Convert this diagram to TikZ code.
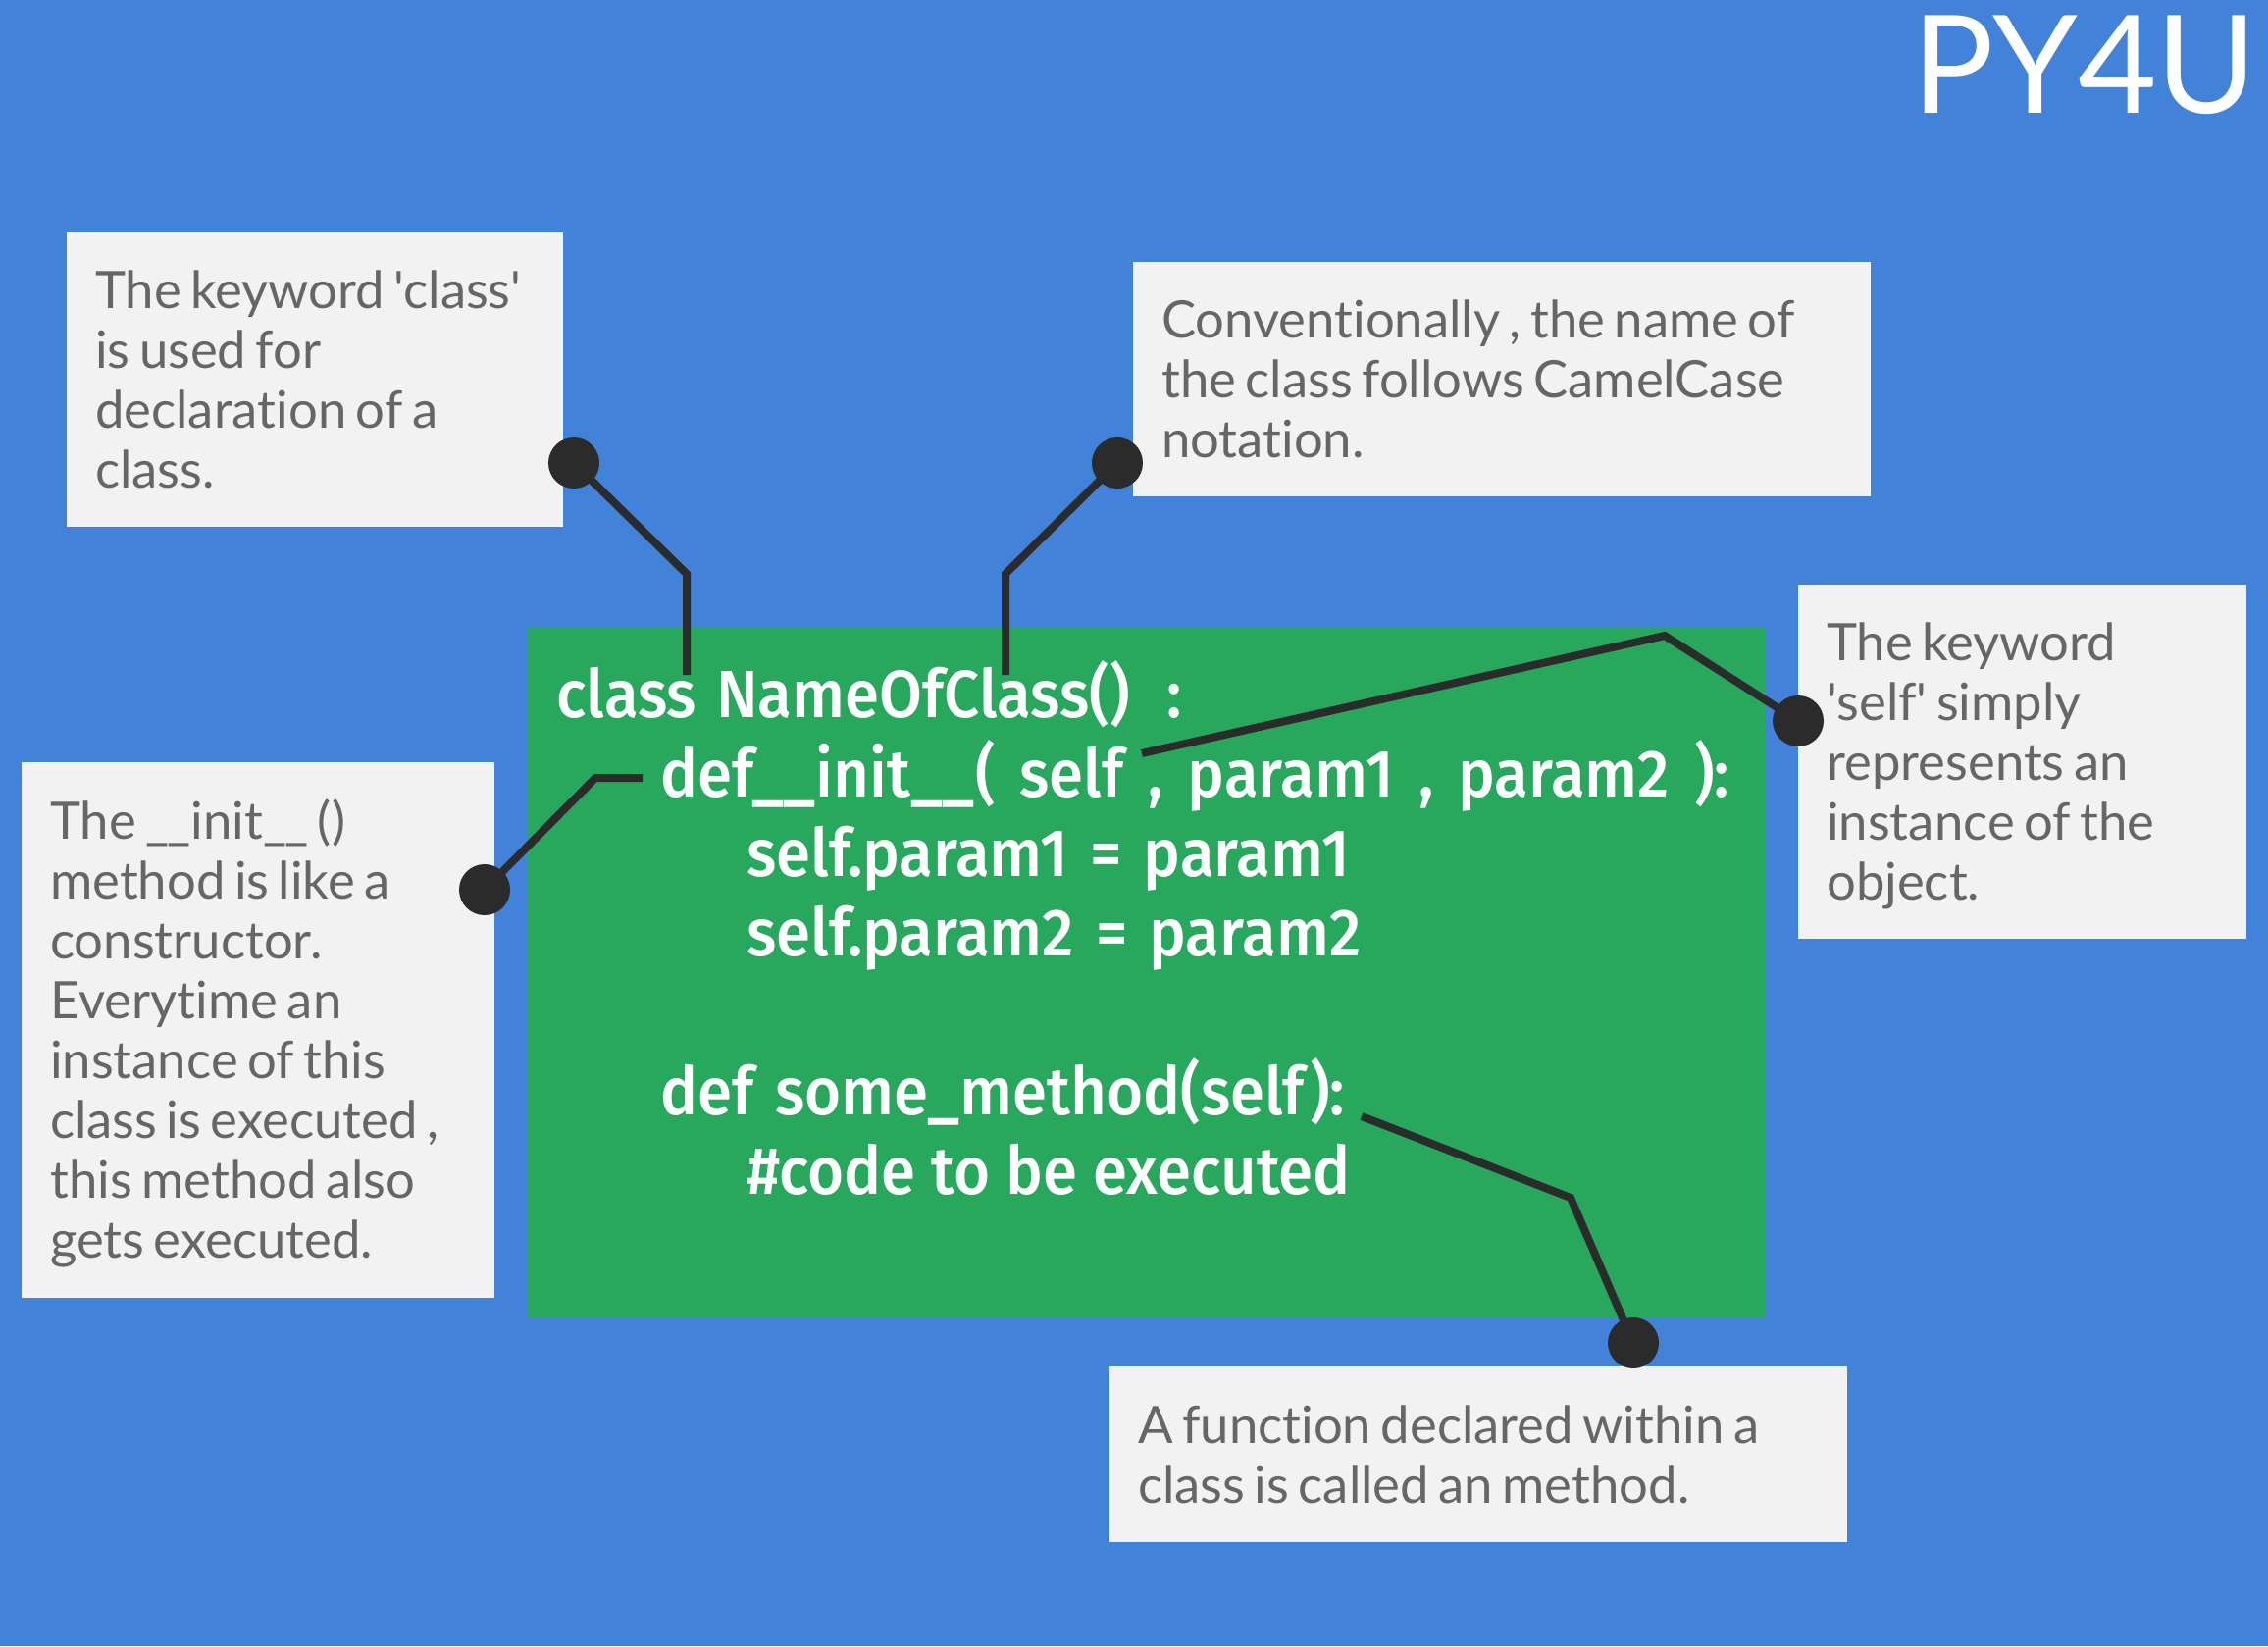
\documentclass[tikz,border=0pt]{standalone}
\usepackage{fontspec}
\newfontfamily\notefont[Ligatures=NoCommon]{Lato}
\newfontfamily\titlefont{Lato}
\newfontfamily\codefont[FakeStretch=0.935]{Fira Sans Medium}
\newcommand\wsp[1]{\spaceskip #1\relax\xspaceskip #1\relax}
\newcommand\notetype{\notefont\fontsize{52.6}{61}\selectfont}
\newcommand\codetype{\codefont\fontsize{68}{81}\selectfont}
\newcommand\dunder{\_\kern-2pt\_}
\definecolor{bgblue}{RGB}{66,131,217}
\definecolor{codegreen}{RGB}{39,168,92}
\definecolor{notebg}{RGB}{242,242,242}
\definecolor{notetext}{RGB}{102,102,102}
\definecolor{ink}{RGB}{43,43,43}
\tikzset{
  notebox/.style={fill=notebg,draw=none,anchor=north west,inner xsep=29pt,inner ysep=0pt,align=left,
    text=notetext,font=\notetype},
  dotnode/.style={circle,fill=ink,draw=none,minimum size=52pt,inner sep=0pt},
  leader/.style={draw=ink,line width=8pt,line join=miter}
}
\begin{document}
\begin{tikzpicture}[x=1pt,y=-1pt]
\useasboundingbox (0,0) rectangle (2312,1678);
\fill[bgblue] (0,0) rectangle (2312,1678);
\node[anchor=base east,inner sep=0pt,text=white,font=\titlefont\fontsize{139}{139}\selectfont] (title) at (2301,115) {PY4U};
\node[fill=codegreen,anchor=north west,minimum width=1263pt,minimum height=704pt,inner sep=0pt] (codebox) at (537,640) {};
\node[anchor=north west,inner sep=0pt,align=left,text=white,font=\codetype] (code) at (567,673)
{\wsp{20pt}class NameOfClass() \hspace{18pt}:\\
\hspace*{106pt}\wsp{25pt}def\_\_init\_\_( self , param1 , param2 ):\\
\hspace*{194pt}\wsp{22pt}self.param1 = param1\\
\hspace*{194pt}\wsp{22pt}self.param2 = param2\\
\mbox{}\\
\hspace*{106pt}\wsp{22pt}def some\_method(self):\\
\hspace*{194pt}\wsp{16pt}\#code to be executed};
\node[notebox,minimum width=506pt,minimum height=300pt,text width=448pt] (n1) at (68,237)
{\wsp{9.5pt}The keyword 'class'\\is used for\\declaration of a\\class.};
\node[notebox,minimum width=752pt,minimum height=239pt,text width=694pt] (n2) at (1155,267)
{\wsp{9.5pt}Conventionally , the name of\\the class follows CamelCase\\notation.};
\node[notebox,minimum width=457pt,minimum height=361pt,text width=399pt] (n3) at (1833,596)
{\wsp{9.5pt}\rule{0pt}{47pt}The keyword\\'self' simply\\represents an\\instance of the\\object.};
\node[notebox,minimum width=482pt,minimum height=546pt,text width=424pt] (n4) at (22,777)
{\wsp{9.5pt}\rule{0pt}{48pt}The \dunder init\dunder{} ()\\method is like a\\constructor.\\Everytime an\\instance of this\\class is executed ,\\this method also\\gets executed.};
\node[notebox,minimum width=752pt,minimum height=179pt,text width=694pt] (n5) at (1131,1393)
{\wsp{9.5pt}A function declared within a\\class is called an method.};
\node[dotnode] (d1) at (585,472) {};
\node[dotnode] (d2) at (1139,472) {};
\node[dotnode] (d3) at (1833,735) {};
\node[dotnode] (d4) at (494,907) {};
\node[dotnode] (d5) at (1665,1369) {};
\coordinate (e1) at (700,688);
\coordinate (e2) at (1025,688);
\coordinate (e3) at (1164,768);
\coordinate (e4) at (655,793);
\coordinate (e5) at (1388,1138);
\draw[leader] (d1.center) -- (700,585) -- (e1);
\draw[leader] (d2.center) -- (1025,585) -- (e2);
\draw[leader] (e3) -- (1697,648) -- (d3.center);
\draw[leader] (d4.center) -- (607,793) -- (e4);
\draw[leader] (e5) -- (1601,1221) -- (d5.center);
\end{tikzpicture}
\end{document}
